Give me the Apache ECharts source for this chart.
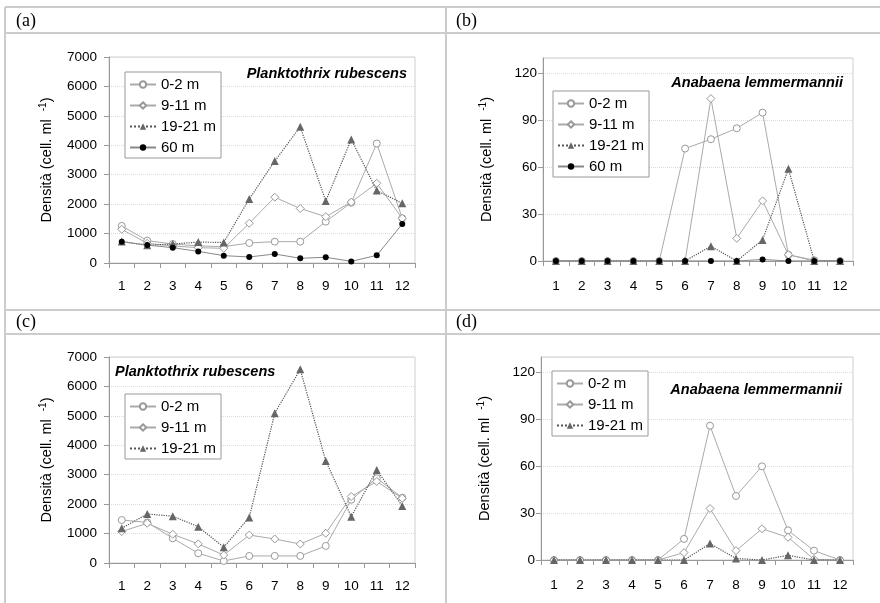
<!DOCTYPE html>
<html>
<head>
<meta charset="utf-8">
<script src="https://cdn.jsdelivr.net/npm/echarts@6/dist/echarts.min.js"></script>
<style>
html,body{margin:0;padding:0;background:#fff;}
#c{width:880px;height:603px;}
</style>
</head>
<body>
<div id="c"></div>
<script>
// ---- data ----
const months = ['1','2','3','4','5','6','7','8','9','10','11','12'];
const panelLabels = ['(a)', '(b)', '(c)', '(d)'];
const speciesNames = ['Planktothrix rubescens', 'Anabaena lemmermannii', 'Planktothrix rubescens', 'Anabaena lemmermannii'];
const depthNames = ['0-2 m', '9-11 m', '19-21 m', '60 m'];

// panel (a) Planktothrix rubescens
const a_0_2   = [1260, 760, 645, 580, 555, 680, 725, 725, 1405, 2050, 4060, 1520];
const a_9_11  = [1145, 670, 580, 520, 500, 1350, 2235, 1850, 1575, 2070, 2710, 1520];
const a_19_21 = [730, 600, 645, 710, 700, 2175, 3465, 4630, 2105, 4200, 2460, 2030];
const a_60    = [725, 610, 520, 395, 250, 205, 305, 160, 195, 55, 260, 1325];

// panel (b) Anabaena lemmermannii
const b_0_2   = [0, 0, 0, 0, 0, 72, 78, 85, 95, 4, 0.5, 0];
const b_9_11  = [0, 0, 0, 0, 0, 0, 104, 14.5, 38.5, 4, 0, 0];
const b_19_21 = [0, 0, 0, 0, 0, 0, 9.5, 0, 13.5, 59, 0, 0];
const b_60    = [0, 0, 0, 0, 0, 0, 0, 0, 1, 0, 0, 0];

// panel (c) Planktothrix rubescens
const c_0_2   = [1460, 1380, 840, 330, 70, 240, 240, 240, 580, 2150, 2880, 2220];
const c_9_11  = [1070, 1350, 975, 650, 270, 950, 815, 645, 1010, 2260, 2770, 2200];
const c_19_21 = [1180, 1665, 1590, 1235, 535, 1550, 5090, 6580, 3470, 1575, 3160, 1940];

// panel (d) Anabaena lemmermannii
const d_0_2   = [0, 0, 0, 0, 0, 13.5, 86, 41, 60, 19, 6, 0];
const d_9_11  = [0, 0, 0, 0, 0, 4.7, 33, 6, 20, 14.5, 0.5, 0];
const d_19_21 = [0, 0, 0, 0, 0, 0, 10.5, 1, 0, 3, 0, 0];

const yTicksPlank = {min: 0, max: 7000, interval: 1000};
const yTicksAnab = {min: 0, max: 130, interval: 30};

// ---- styling ----
const FONT = 'Liberation Sans, Arial, sans-serif';
const grids = [
  {left: 109, top: 57, width: 306, height: 206},
  {left: 543, top: 58, width: 310, height: 203},
  {left: 109, top: 357, width: 306, height: 206},
  {left: 541, top: 357, width: 312, height: 203}
];
const nameGaps = [54, 48, 54, 48];
const labelMargins = [12, 6, 12, 6];
const xLabelMargins = [16, 18, 16, 18];

const styles = [
  {symbol: 'circle', symbolSize: 7, itemStyle: {color: '#fff', borderColor: '#999', borderWidth: 1}, lineStyle: {color: '#aaa', width: 1}},
  {symbol: 'diamond', symbolSize: 8, itemStyle: {color: '#fff', borderColor: '#999', borderWidth: 1}, lineStyle: {color: '#aaa', width: 1}},
  {symbol: 'triangle', symbolSize: 8, itemStyle: {color: '#666', borderColor: '#666', borderWidth: 0}, lineStyle: {color: '#555', width: 1.2, type: 'dotted'}},
  {symbol: 'circle', symbolSize: 6, itemStyle: {color: '#000', borderColor: '#000', borderWidth: 0}, lineStyle: {color: '#888', width: 1}}
];

const panelData = [
  [a_0_2, a_9_11, a_19_21, a_60],
  [b_0_2, b_9_11, b_19_21, b_60],
  [c_0_2, c_9_11, c_19_21],
  [d_0_2, d_9_11, d_19_21]
];

const xAxes = [], yAxes = [], series = [], legends = [];
grids.forEach((g, i) => {
  g.show = true; g.borderColor = '#cfcfcf'; g.borderWidth = 1; g.backgroundColor = 'transparent';
  xAxes.push({
    type: 'category', gridIndex: i, data: months, boundaryGap: true,
    axisLine: {show: true, lineStyle: {color: '#999', width: 1}},
    axisTick: {show: true, length: 5, lineStyle: {color: '#999'}},
    axisLabel: {color: '#000', fontSize: 13.5, fontFamily: FONT, margin: xLabelMargins[i], interval: 0},
    splitLine: {show: false}
  });
  const yt = (i % 2 === 0) ? yTicksPlank : yTicksAnab;
  yAxes.push({
    type: 'value', gridIndex: i, min: yt.min, max: yt.max, interval: yt.interval,
    name: 'Densità (cell. ml  {s|-1})', nameLocation: 'middle', nameGap: nameGaps[i], nameRotate: 90,
    nameTextStyle: {color: '#000', fontSize: 14.5, fontFamily: FONT, lineHeight: 17,
      rich: {s: {fontSize: 10, fontFamily: FONT, verticalAlign: 'top', lineHeight: 10, color: '#000'}}},
    axisLine: {show: true, lineStyle: {color: '#999', width: 1}},
    axisTick: {show: true, length: 5, lineStyle: {color: '#999'}},
    axisLabel: {color: '#000', fontSize: 13.5, fontFamily: FONT, margin: labelMargins[i], showMaxLabel: (i % 2 === 0),
      formatter: v => String(v)},
    splitLine: {show: true, lineStyle: {color: '#dcdcdc', type: 'dotted', width: 1}}
  });
  const names = [];
  panelData[i].forEach((arr, k) => {
    const st = styles[k];
    names.push(depthNames[k]);
    series.push({
      type: 'line', name: depthNames[k], xAxisIndex: i, yAxisIndex: i, data: arr,
      symbol: st.symbol, symbolSize: st.symbolSize, showAllSymbol: true,
      itemStyle: st.itemStyle, lineStyle: st.lineStyle, z: 2 + k, animation: false
    });
  });
  legends.push({
    orient: 'vertical', data: names, selectedMode: false,
    backgroundColor: '#fff', borderColor: '#999', borderWidth: 1,
    padding: [5, 5, 3, 4], itemGap: 6, itemWidth: 26, itemHeight: 8,
    textStyle: {color: '#000', fontSize: 15, fontFamily: FONT}
  });
});
legends[0].left = 125; legends[0].top = 72;
legends[1].left = 553; legends[1].top = 91;
legends[2].left = 125; legends[2].top = 394;
legends[3].left = 552; legends[3].top = 371;

const lineCol = '#cccccc';
const graphic = [
  {type: 'line', shape: {x1: 5, y1: 7, x2: 880, y2: 7}, style: {stroke: lineCol, lineWidth: 2}},
  {type: 'line', shape: {x1: 5, y1: 33, x2: 880, y2: 33}, style: {stroke: lineCol, lineWidth: 2}},
  {type: 'line', shape: {x1: 5, y1: 310, x2: 880, y2: 310}, style: {stroke: lineCol, lineWidth: 2}},
  {type: 'line', shape: {x1: 5, y1: 334, x2: 880, y2: 334}, style: {stroke: lineCol, lineWidth: 2}},
  {type: 'line', shape: {x1: 5, y1: 7, x2: 5, y2: 603}, style: {stroke: lineCol, lineWidth: 2}},
  {type: 'line', shape: {x1: 446, y1: 7, x2: 446, y2: 603}, style: {stroke: lineCol, lineWidth: 2}}
];
const labelPos = [[16, 21], [456, 21], [16, 322], [456, 322]];
panelLabels.forEach((t, i) => {
  graphic.push({type: 'text', x: labelPos[i][0], y: labelPos[i][1],
    style: {text: t, font: '18px "Liberation Serif", "Times New Roman", serif', fill: '#000', verticalAlign: 'middle', align: 'left'}});
});
const spPos = [[407, 74, 'right'], [843, 83, 'right'], [115, 372, 'left'], [842, 390, 'right']];
speciesNames.forEach((t, i) => {
  graphic.push({type: 'text', x: spPos[i][0], y: spPos[i][1], z: 20,
    style: {text: t, font: 'italic bold 14.5px "Liberation Sans", Arial, sans-serif', fill: '#000', verticalAlign: 'middle', align: spPos[i][2]}});
});

const chart = echarts.init(document.getElementById('c'), null, {renderer: 'canvas'});
chart.setOption({
  animation: false,
  backgroundColor: '#fff',
  grid: grids, xAxis: xAxes, yAxis: yAxes, series: series, legend: legends, graphic: graphic
});
</script>
</body>
</html>
